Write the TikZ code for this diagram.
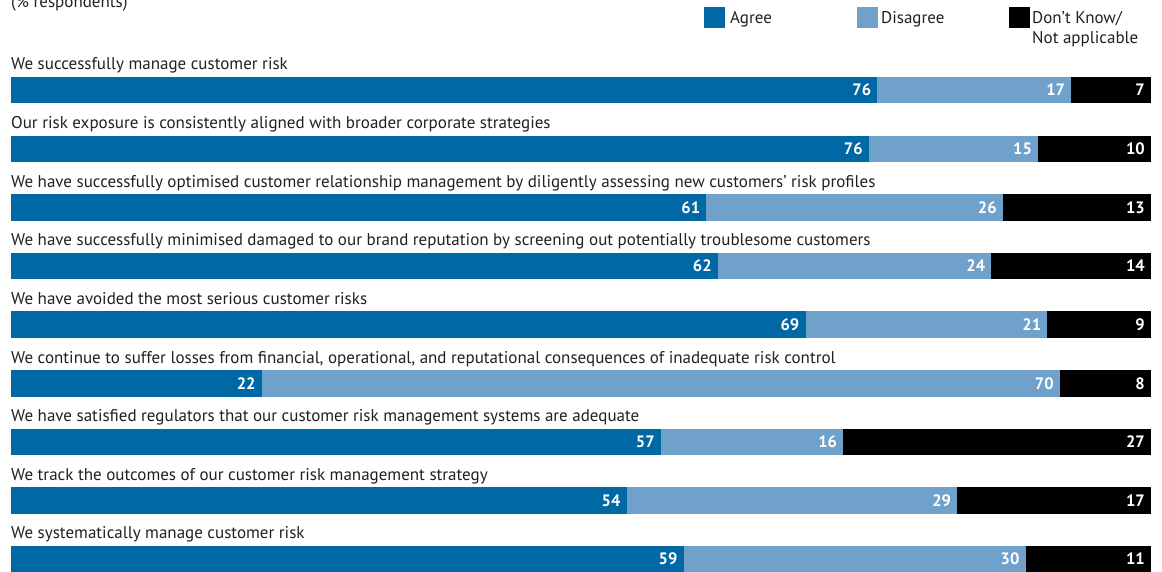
\documentclass[tikz,border=0pt]{standalone}
\usepackage{fontspec}
\setmainfont{PT Sans}
\usepackage{tikz}
\usetikzlibrary{positioning}
\definecolor{agree}{RGB}{0,104,164}
\definecolor{disagree}{RGB}{112,161,202}
\definecolor{dontknow}{RGB}{0,0,0}
\definecolor{labeltext}{RGB}{35,31,32}
\tikzset{
  every label node/.style={labeltext,inner sep=0pt,anchor=base west,font=\fontsize{17}{20}\selectfont},
  every value node/.style={white,inner sep=0pt,anchor=base east,font=\fontsize{16.5}{19}\selectfont\bfseries},
  every key box/.style={minimum width=21pt,minimum height=21pt,inner sep=0pt,anchor=north west},
}

\begin{document}
\begin{tikzpicture}[x=1pt,y=-1pt]
\useasboundingbox (0,0) rectangle (1162,572);
\node[every label node] (resp) at (11,8) {(\% respondents)};
% legend
\node[every key box,fill=agree] (key agree) at (704,7) {};
\node[every label node] (txt agree) at (730,24) {Agree};
\node[every key box,fill=disagree] (key disagree) at (857,7) {};
\node[every label node] (txt disagree) at (881,24) {Disagree};
\node[every key box,fill=dontknow] (key dontknow) at (1009,7) {};
\node[every label node,align=left] (txt dontknow) at (1032,44) {Don’t Know/\\Not applicable};
% bars
\foreach \txt/\a/\d/\n [count=\i] in {
  {We successfully manage customer risk}/76/17/7,
  {Our risk exposure is consistently aligned with broader corporate strategies}/76/15/10,
  {We have successfully optimised customer relationship management by diligently assessing new customers’ risk profiles}/61/26/13,
  {We have successfully minimised damaged to our brand reputation by screening out potentially troublesome customers}/62/24/14,
  {We have avoided the most serious customer risks}/69/21/9,
  {We continue to suffer losses from financial, operational, and reputational consequences of inadequate risk control}/22/70/8,
  {We have satisfied regulators that our customer risk management systems are adequate}/57/16/27,
  {We track the outcomes of our customer risk management strategy}/54/29/17,
  {We systematically manage customer risk}/59/30/11}
{
  \pgfmathsetmacro\top{77+58.6*(\i-1)}
  \pgfmathsetmacro\s{1140/(\a+\d+\n)}
  \pgfmathsetmacro\xa{11+\a*\s}
  \pgfmathsetmacro\xd{\xa+\d*\s}
  \node[every label node] (q\i) at (11,\top-7) {\txt};
  \fill[agree] (11,\top) rectangle (\xa,\top+26.5);
  \fill[disagree] (\xa,\top) rectangle (\xd,\top+26.5);
  \fill[dontknow] (\xd,\top) rectangle (1151,\top+26.5);
  \node[every value node] (a\i) at (\xa-6,\top+19) {\a};
  \node[every value node] (d\i) at (\xd-6,\top+19) {\d};
  \node[every value node] (n\i) at (1145,\top+19) {\n};
}
\end{tikzpicture}
\end{document}
